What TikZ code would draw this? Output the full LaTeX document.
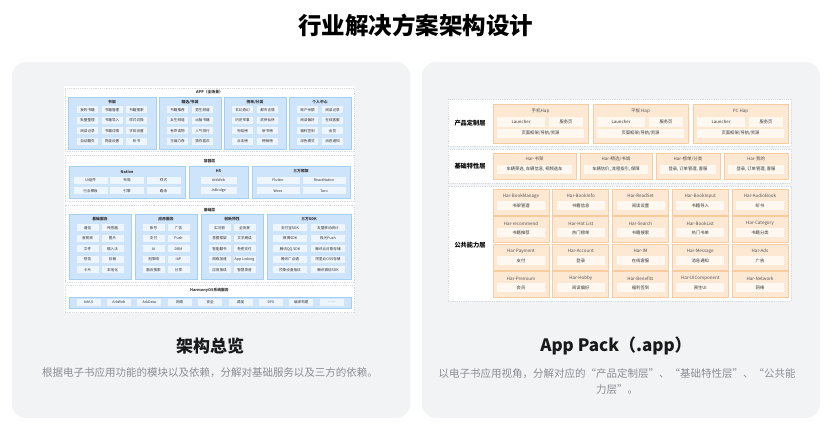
\documentclass[tikz,border=0pt]{standalone}
\usepackage{fontspec}
\setmainfont{Noto Sans CJK SC}
\definecolor{panel}{HTML}{F2F3F5}
\definecolor{secb}{HTML}{D6D9DE}
\definecolor{bfill}{HTML}{CDE4FA}
\definecolor{bdraw}{HTML}{A6CFF5}
\definecolor{bitm}{HTML}{EDF5FE}
\definecolor{ofill}{HTML}{FDE8D3}
\definecolor{odraw}{HTML}{F8CC9F}
\definecolor{oitm}{HTML}{FFF8F1}
\definecolor{txt}{HTML}{333333}
\definecolor{subt}{HTML}{8A8D93}
\newcounter{nd}
\newcommand\itm[6]{\stepcounter{nd}\node[#1, minimum width=#4, minimum height=#5] (n\arabic{nd}) at (#2,#3) {#6};}
\newcommand\lbl[4]{\stepcounter{nd}\node[#1] (n\arabic{nd}) at (#2,#3) {#4};}
\newcommand\harbox[4]{%
  \itm{obox}{#1+28}{#2+13}{56}{26}{}%
  \lbl{otitle}{#1+28}{#2+7}{#3}%
  \itm{oitem}{#1+28}{#2+16.5}{48}{9}{#4}}
\tikzset{
  sec/.style={draw=secb, fill=white, dash pattern=on 1.2pt off 1pt, line width=0.5pt, inner sep=0pt},
  bgrp/.style={draw=bdraw, fill=bfill, line width=0.6pt, inner sep=0pt},
  bitem/.style={fill=bitm, draw=none, inner sep=0pt, text=txt, font=\fontsize{3.6}{4}\selectfont},
  gtitle/.style={inner sep=0pt, text=txt, font=\fontsize{3.8}{4}\selectfont\bfseries},
  obox/.style={draw=odraw, fill=ofill, line width=0.6pt, inner sep=0pt},
  oitem/.style={fill=oitm, draw=none, inner sep=0pt, text=txt, font=\fontsize{4.3}{5}\selectfont},
  otitle/.style={inner sep=0pt, text=txt!85, font=\fontsize{4.5}{5}\selectfont},
  rlabel/.style={inner sep=0pt, text=black, font=\fontsize{6.2}{7}\selectfont\bfseries},
}
\begin{document}
\begin{tikzpicture}[x=1pt,y=-1pt]
\useasboundingbox (0,0) rectangle (831,430);
\fill[white] (0,0) rectangle (831,430);
% title
\node[inner sep=0pt, font=\fontsize{23.5}{25}\selectfont\bfseries, text=black] (title) at (415.5,25) {行业解决方案架构设计};
% panels
\node[fill=panel, rounded corners=14pt, minimum width=398, minimum height=356, inner sep=0pt] (lp) at (211,240) {};
\node[fill=panel, rounded corners=14pt, minimum width=398, minimum height=356, inner sep=0pt] (rp) at (621,240) {};
% captions
\node[inner sep=0pt, font=\fontsize{17}{19}\selectfont\bfseries, text=black!90] (lcap) at (210,346) {架构总览};
\node[inner sep=0pt, font=\fontsize{10.5}{12}\selectfont, text=subt] (lsub) at (210,373) {根据电子书应用功能的模块以及依赖，分解对基础服务以及三方的依赖。};
\node[inner sep=0pt, font=\fontsize{17}{19}\selectfont\bfseries, text=black!90] (rcap) at (616,346) {App Pack（.app）};
\node[inner sep=0pt, font=\fontsize{10.5}{16}\selectfont, text=subt, align=center] (rsub) at (617,382) {以电子书应用视角，分解对应的“产品定制层”、“基础特性层”、“公共能\\力层”。};

% ================= LEFT DIAGRAM =================
\fill[white] (64,86) rectangle (355,313);
% Section A
\itm{sec}{209.5}{119.5}{289}{63}{}
\lbl{gtitle}{209.5}{92.5}{APP（全场景）}
\itm{bgrp}{112}{123}{88}{52}{}
\lbl{gtitle}{112}{102}{书架}
\itm{bgrp}{190}{123}{62}{52}{}
\lbl{gtitle}{190}{102}{精选/书城}
\itm{bgrp}{255}{123}{62}{52}{}
\lbl{gtitle}{255}{102}{榜单/分类}
\itm{bgrp}{320}{123}{62}{52}{}
\lbl{gtitle}{320}{102}{个人中心}
% G1 items
\itm{bitem}{87.5}{110}{21}{7}{我的书籍}
\itm{bitem}{112}{110}{21}{7}{书籍管理}
\itm{bitem}{136.5}{110}{21}{7}{书籍搜索}
\itm{bitem}{87.5}{120.5}{21}{7}{批量整理}
\itm{bitem}{112}{120.5}{21}{7}{书籍导入}
\itm{bitem}{136.5}{120.5}{21}{7}{样式切换}
\itm{bitem}{87.5}{131}{21}{7}{阅读记录}
\itm{bitem}{112}{131}{21}{7}{书籍详情}
\itm{bitem}{136.5}{131}{21}{7}{字体设置}
\itm{bitem}{87.5}{141.5}{21}{7}{自动翻页}
\itm{bitem}{112}{141.5}{21}{7}{亮度设置}
\itm{bitem}{136.5}{141.5}{21}{7}{听书}
% G2
\itm{bitem}{177.5}{110}{21}{7}{书籍推荐}
\itm{bitem}{202.5}{110}{21}{7}{男生频道}
\itm{bitem}{177.5}{120.5}{21}{7}{女生频道}
\itm{bitem}{202.5}{120.5}{21}{7}{出版书籍}
\itm{bitem}{177.5}{131}{21}{7}{有声读物}
\itm{bitem}{202.5}{131}{21}{7}{人气排行}
\itm{bitem}{177.5}{141.5}{21}{7}{主编力荐}
\itm{bitem}{202.5}{141.5}{21}{7}{猜你喜欢}
% G3
\itm{bitem}{242.5}{110}{21}{7}{玄幻奇幻}
\itm{bitem}{267.5}{110}{21}{7}{都市言情}
\itm{bitem}{242.5}{120.5}{21}{7}{历史军事}
\itm{bitem}{267.5}{120.5}{21}{7}{武侠仙侠}
\itm{bitem}{242.5}{131}{21}{7}{完结榜}
\itm{bitem}{267.5}{131}{21}{7}{新书榜}
\itm{bitem}{242.5}{141.5}{21}{7}{点击榜}
\itm{bitem}{267.5}{141.5}{21}{7}{畅销榜}
% G4
\itm{bitem}{307.5}{110}{21}{7}{账户余额}
\itm{bitem}{332.5}{110}{21}{7}{阅读记录}
\itm{bitem}{307.5}{120.5}{21}{7}{阅读偏好}
\itm{bitem}{332.5}{120.5}{21}{7}{在线客服}
\itm{bitem}{307.5}{131}{21}{7}{福利签到}
\itm{bitem}{332.5}{131}{21}{7}{会员}
\itm{bitem}{307.5}{141.5}{21}{7}{深色模式}
\itm{bitem}{332.5}{141.5}{21}{7}{消息通知}

% Section B
\itm{sec}{209.5}{178}{289}{46}{}
\lbl{gtitle}{209.5}{161.5}{容器层}
\itm{bgrp}{127}{182}{116}{32}{}
\lbl{gtitle}{127}{171.5}{Native}
\itm{bgrp}{218.5}{182}{59}{32}{}
\lbl{gtitle}{218.5}{171.5}{H5}
\itm{bgrp}{301}{182}{98}{32}{}
\lbl{gtitle}{301}{171.5}{三方框架}
\itm{bitem}{90.5}{180.5}{34}{7}{UI组件}
\itm{bitem}{127}{180.5}{34}{7}{布局}
\itm{bitem}{163.5}{180.5}{34}{7}{样式}
\itm{bitem}{90.5}{191}{34}{7}{行业模板}
\itm{bitem}{127}{191}{34}{7}{引擎}
\itm{bitem}{163.5}{191}{34}{7}{路由}
\itm{bitem}{218.5}{180.5}{36}{7}{ArkWeb}
\itm{bitem}{218.5}{191}{36}{7}{JsBridge}
\itm{bitem}{278}{180.5}{43}{7}{Flutter}
\itm{bitem}{324}{180.5}{43}{7}{ReactNative}
\itm{bitem}{278}{191}{43}{7}{Weex}
\itm{bitem}{324}{191}{43}{7}{Taro}

% Section C
\itm{sec}{209.5}{243.5}{289}{77}{}
\lbl{gtitle}{209.5}{210}{基础层}
\itm{bgrp}{100}{246.5}{62}{65}{}
\lbl{gtitle}{100}{219.5}{基础服务}
\itm{bgrp}{166}{246.5}{62}{65}{}
\lbl{gtitle}{166}{219.5}{应用服务}
\itm{bgrp}{232}{246.5}{62}{65}{}
\lbl{gtitle}{232}{219.5}{创新特性}
\itm{bgrp}{309}{246.5}{84}{65}{}
\lbl{gtitle}{309}{219.5}{三方SDK}
% base services
\itm{bitem}{87.5}{228}{22}{7}{通信}
\itm{bitem}{112.5}{228}{22}{7}{传感器}
\itm{bitem}{87.5}{238.5}{22}{7}{音视频}
\itm{bitem}{112.5}{238.5}{22}{7}{图片}
\itm{bitem}{87.5}{249}{22}{7}{文件}
\itm{bitem}{112.5}{249}{22}{7}{输入法}
\itm{bitem}{87.5}{259.5}{22}{7}{短信}
\itm{bitem}{112.5}{259.5}{22}{7}{存储}
\itm{bitem}{87.5}{270}{22}{7}{卡片}
\itm{bitem}{112.5}{270}{22}{7}{本地化}
% app services
\itm{bitem}{153.5}{228}{22}{7}{账号}
\itm{bitem}{178.5}{228}{22}{7}{广告}
\itm{bitem}{153.5}{238.5}{22}{7}{支付}
\itm{bitem}{178.5}{238.5}{22}{7}{Push}
\itm{bitem}{153.5}{249}{22}{7}{AI}
\itm{bitem}{178.5}{249}{22}{7}{DRM}
\itm{bitem}{153.5}{259.5}{22}{7}{无障碍}
\itm{bitem}{178.5}{259.5}{22}{7}{IAP}
\itm{bitem}{153.5}{270}{22}{7}{融合搜索}
\itm{bitem}{178.5}{270}{22}{7}{分享}
% innovation
\itm{bitem}{219.5}{228}{22}{7}{实况窗}
\itm{bitem}{244.5}{228}{22}{7}{全场景}
\itm{bitem}{219.5}{238.5}{22}{7}{意图框架}
\itm{bitem}{244.5}{238.5}{22}{7}{文字朗读}
\itm{bitem}{219.5}{249}{22}{7}{智能翻书}
\itm{bitem}{244.5}{249}{22}{7}{免密支付}
\itm{bitem}{219.5}{259.5}{22}{7}{网络加速}
\itm{bitem}{244.5}{259.5}{22}{7}{App Linking}
\itm{bitem}{219.5}{270}{22}{7}{应用接续}
\itm{bitem}{244.5}{270}{22}{7}{智慧录音}
% third-party SDK
\itm{bitem}{290}{228}{34}{7}{支付宝SDK}
\itm{bitem}{328}{228}{34}{7}{友盟移动统计}
\itm{bitem}{290}{238.5}{34}{7}{微博SDK}
\itm{bitem}{328}{238.5}{34}{7}{极光Push}
\itm{bitem}{290}{249}{34}{7}{腾讯QQ SDK}
\itm{bitem}{328}{249}{34}{7}{腾讯云对象存储}
\itm{bitem}{290}{259.5}{34}{7}{腾讯广点通}
\itm{bitem}{328}{259.5}{34}{7}{阿里云OSS存储}
\itm{bitem}{290}{270}{34}{7}{顶象设备指纹}
\itm{bitem}{328}{270}{34}{7}{腾讯微信SDK}

% Section D
\itm{sec}{209.5}{298.5}{289}{27}{}
\lbl{gtitle}{209.5}{290.5}{HarmonyOS系统服务}
\itm{bgrp}{210}{302.5}{282}{11}{}
\itm{bitem}{88.5}{302.5}{24}{7}{ArkUI}
\itm{bitem}{118.9}{302.5}{24}{7}{ArkWeb}
\itm{bitem}{149.3}{302.5}{24}{7}{ArkData}
\itm{bitem}{179.7}{302.5}{24}{7}{网络}
\itm{bitem}{210.1}{302.5}{24}{7}{安全}
\itm{bitem}{240.5}{302.5}{24}{7}{调度}
\itm{bitem}{270.9}{302.5}{24}{7}{DFX}
\itm{bitem}{301.3}{302.5}{24}{7}{编译构建}
\itm{bitem}{331.7}{302.5}{24}{7}{……}

% ================= RIGHT DIAGRAM =================
\itm{sec}{619.5}{122.5}{343}{47}{}
\lbl{rlabel}{470}{123}{产品定制层}
\itm{sec}{619.5}{166}{343}{34}{}
\lbl{rlabel}{470}{166}{基础特性层}
\itm{sec}{619.5}{243.5}{343}{115}{}
\lbl{rlabel}{470}{245}{公共能力层}
% product boxes
\itm{obox}{540.5}{123.5}{95}{39}{}
\lbl{otitle}{540.5}{111}{手机Hap}
\itm{oitem}{521}{122}{48}{10}{Launcher}
\itm{oitem}{566}{122}{34}{10}{服务页}
\itm{oitem}{540.5}{133.5}{87}{9}{页面框架/导航/资源}
\itm{obox}{640.5}{123.5}{95}{39}{}
\lbl{otitle}{640.5}{111}{平板 Hap}
\itm{oitem}{621}{122}{48}{10}{Launcher}
\itm{oitem}{666}{122}{34}{10}{服务页}
\itm{oitem}{640.5}{133.5}{87}{9}{页面框架/导航/资源}
\itm{obox}{740.5}{123.5}{95}{39}{}
\lbl{otitle}{740.5}{111}{PC Hap}
\itm{oitem}{721}{122}{48}{10}{Launcher}
\itm{oitem}{766}{122}{34}{10}{服务页}
\itm{oitem}{740.5}{133.5}{87}{9}{页面框架/导航/资源}
% feature boxes
\itm{obox}{534.5}{166}{83}{26}{}
\lbl{otitle}{534.5}{159}{Har-书架}
\itm{oitem}{534.5}{169.5}{75}{9}{车辆筛选, 车辆信息, 视频选车}
\itm{obox}{616}{166}{72}{26}{}
\lbl{otitle}{616}{159}{Har-精选/书城}
\itm{oitem}{616}{169.5}{64}{9}{车辆估价, 流程指引, 保障}
\itm{obox}{688}{166}{64}{26}{}
\lbl{otitle}{688}{159}{Har-榜单/分类}
\itm{oitem}{688}{169.5}{56}{9}{登录, 订单管理, 客服}
\itm{obox}{756}{166}{64}{26}{}
\lbl{otitle}{756}{159}{Har-我的}
\itm{oitem}{756}{169.5}{56}{9}{登录, 订单管理, 客服}
% common boxes
\harbox{493}{189}{Har-BookManage}{书架管理}
\harbox{552.75}{189}{Har-BookInfo}{书籍信息}
\harbox{612.5}{189}{Har-ReadSet}{阅读设置}
\harbox{672.25}{189}{Har-BookInput}{书籍导入}
\harbox{732}{189}{Har-AudioBook}{听书}
\harbox{493}{216.5}{Har-recommend}{书籍推荐}
\harbox{552.75}{216.5}{Har-Hot List}{热门榜单}
\harbox{612.5}{216.5}{Har-Search}{书籍搜索}
\harbox{672.25}{216.5}{Har-BookList}{热门书单}
\harbox{732}{216.5}{Har-Category}{书籍分类}
\harbox{493}{244}{Har-Payment}{支付}
\harbox{552.75}{244}{Har-Account}{登录}
\harbox{612.5}{244}{Har-IM}{在线客服}
\harbox{672.25}{244}{Har-Message}{消息通知}
\harbox{732}{244}{Har-Ads}{广告}
\harbox{493}{271.5}{Har-Premium}{会员}
\harbox{552.75}{271.5}{Har-Hobby}{阅读偏好}
\harbox{612.5}{271.5}{Har-Benefits}{福利签到}
\harbox{672.25}{271.5}{Har-UIComponent}{原生UI}
\harbox{732}{271.5}{Har-Network}{网络}
\end{tikzpicture}
\end{document}
